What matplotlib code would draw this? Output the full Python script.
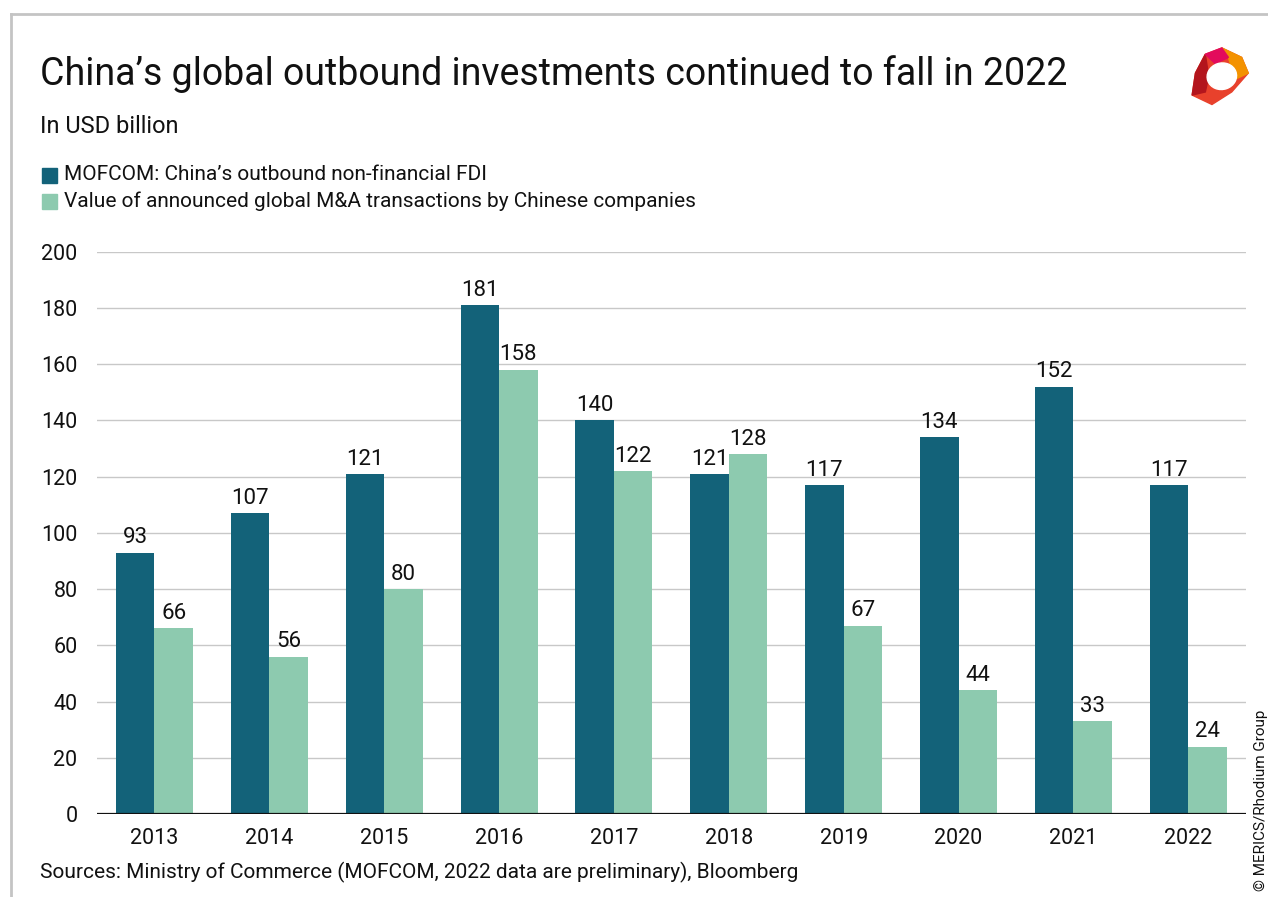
"""China's global outbound investments, MOFCOM FDI vs announced M&A"""

import matplotlib.pyplot as plt
import numpy as np
from matplotlib.patches import Polygon, Ellipse, Rectangle
from matplotlib.lines import Line2D

plt.rcParams['font.family'] = ['Roboto', 'DejaVu Sans']

years = ["2013", "2014", "2015", "2016", "2017", "2018", "2019", "2020", "2021", "2022"]
fdi = [93, 107, 121, 181, 140, 121, 117, 134, 152, 117]
mna = [66, 56, 80, 158, 122, 128, 67, 44, 33, 24]
series_names = [
    "MOFCOM: China\u2019s outbound non-financial FDI",
    "Value of announced global M&A transactions by Chinese companies",
]
dark = "#136279"
light = "#8dcaaf"

fig = plt.figure(figsize=(12.68, 8.97), dpi=100)
ax = fig.add_axes([0.0765, 0.0925, 0.906, 0.627])

x = np.arange(len(years))
w = 0.335
b1 = ax.bar(x - w / 2, fdi, w, color=dark, zorder=3)
b2 = ax.bar(x + w / 2, mna, w, color=light, zorder=3)
for bars, vals in ((b1, fdi), (b2, mna)):
    for r, v in zip(bars, vals):
        ax.text(r.get_x() + r.get_width() / 2, v + 1.5, str(v),
                ha="center", va="bottom", fontsize=16, color="#111111")

ax.set_xlim(-0.5, 9.5)
ax.set_ylim(0, 200)
ax.set_yticks(range(0, 201, 20))
ax.set_xticks(x)
ax.set_xticklabels(years)
ax.tick_params(axis="both", length=0, labelsize=15.5, colors="#111111")
ax.tick_params(axis="y", pad=14)
ax.tick_params(axis="x", pad=10)
ax.grid(axis="y", color="#c8c8c8", linewidth=1, zorder=0)
for s in ax.spines.values():
    s.set_visible(False)
ax.axhline(0, color="#111111", linewidth=1.6, zorder=4)

# titles
fig.text(0.0315, 0.917, "China\u2019s global outbound investments continued to fall in 2022",
         fontsize=27, va="center", ha="left", color="#111111")
fig.text(0.0315, 0.859, "In USD billion", fontsize=17, va="center", ha="left", color="#111111")

# legend
for i, (name, c) in enumerate(zip(series_names, [dark, light])):
    yy = 0.805 - i * 0.029
    fig.patches.append(Rectangle((0.0331, yy - 0.0085), 0.0118, 0.0167,
                                 transform=fig.transFigure, color=c))
    fig.text(0.0505, yy, name, fontsize=15, va="center", ha="left", color="#111111")

fig.text(0.0315, 0.027, "Sources: Ministry of Commerce (MOFCOM, 2022 data are preliminary), Bloomberg",
         fontsize=15, va="center", ha="left", color="#111111")
fig.text(0.9945, 0.108, "\u00a9 MERICS/Rhodium Group", fontsize=11, rotation=90,
         va="center", ha="center", color="#111111")

# frame lines
fig.add_artist(Line2D([0.0087, 0.0087], [0, 0.984], color="#c4c4c4", linewidth=2,
                      transform=fig.transFigure))
fig.add_artist(Line2D([0.0087, 1], [0.984, 0.984], color="#c4c4c4", linewidth=2,
                      transform=fig.transFigure))

# logo (rough)
lg = fig.add_axes([0.935, 0.88, 0.052, 0.07])
lg.set_xlim(0, 1)
lg.set_ylim(0, 1)
lg.axis("off")
lg.add_patch(Polygon([[0.15, 0.55], [0.3, 0.85], [0.55, 0.95], [0.85, 0.8], [0.95, 0.55],
                      [0.7, 0.25], [0.4, 0.05], [0.1, 0.2]], closed=True, color="#e8412c"))
lg.add_patch(Polygon([[0.55, 0.95], [0.85, 0.8], [0.95, 0.55], [0.75, 0.45], [0.65, 0.8]],
                     closed=True, color="#f39200"))
lg.add_patch(Polygon([[0.1, 0.2], [0.15, 0.55], [0.3, 0.85], [0.35, 0.5], [0.3, 0.25]],
                     closed=True, color="#b3151d"))
lg.add_patch(Polygon([[0.3, 0.85], [0.55, 0.95], [0.65, 0.8], [0.45, 0.7]],
                     closed=True, color="#e30b5c"))
lg.add_patch(Ellipse((0.55, 0.5), 0.45, 0.42, angle=20, color="white"))

fig.savefig("out.png", dpi=100)
